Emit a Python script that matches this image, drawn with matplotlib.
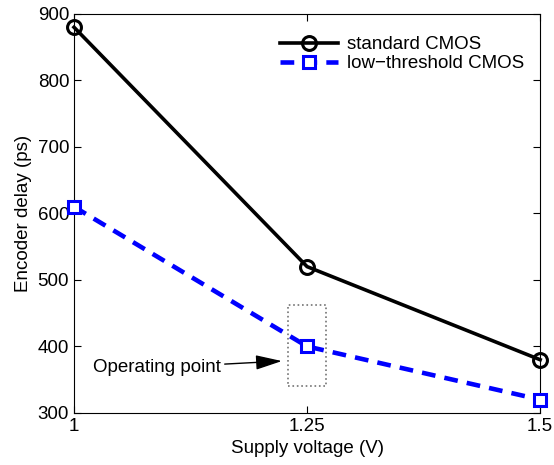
import matplotlib
matplotlib.use('Agg')
import matplotlib.pyplot as plt
from matplotlib.patches import Rectangle

plt.rcParams['font.family'] = ['Liberation Sans', 'DejaVu Sans']

# data
voltage = [1.0, 1.25, 1.5]
standard_cmos = [880, 520, 380]
low_threshold_cmos = [610, 400, 320]
xtick_labels = ['1', '1.25', '1.5']

fig = plt.figure(figsize=(5.54, 4.65), dpi=100)
ax = fig.add_axes([0.1336, 0.112, 0.975 - 0.1336, 0.970 - 0.112])

ax.plot(voltage, standard_cmos, color='black', linewidth=2.6, marker='o',
        markersize=10, markerfacecolor='none', markeredgewidth=2.2,
        label='standard CMOS', clip_on=False, zorder=3)
ax.plot(voltage, low_threshold_cmos, color='blue', linewidth=3.3, linestyle=(0, (3, 2)),
        marker='s', markersize=8, markerfacecolor='white', markeredgewidth=2.2,
        label='low\u2212threshold CMOS', clip_on=False, zorder=3)

# dotted box around the operating point
ax.add_patch(Rectangle((1.23, 340), 0.04, 122, fill=False, edgecolor='0.45',
                       linestyle=':', linewidth=1.2, zorder=2))
ax.annotate('Operating point', xy=(1.223, 378), xytext=(1.02, 368),
            fontsize=13.5, va='center', ha='left',
            arrowprops=dict(arrowstyle='-|>,head_length=0.9,head_width=0.25',
                            color='black', lw=1.0,
                            mutation_scale=18, shrinkA=1, shrinkB=0))

ax.set_xlim(1, 1.5)
ax.set_ylim(300, 900)
ax.set_xticks(voltage)
ax.set_xticklabels(xtick_labels)
ax.set_yticks(range(300, 901, 100))
ax.tick_params(direction='in', labelsize=13.5, length=5, top=True, right=True)
ax.set_xlabel('Supply voltage (V)', fontsize=13.5)
ax.set_ylabel('Encoder delay (ps)', fontsize=13.5)

ax.legend(loc='upper right', bbox_to_anchor=(1.018, 1.005), frameon=False,
          fontsize=13.5, handlelength=3.1, handletextpad=0.45,
          borderaxespad=0.9, labelspacing=0.1)

plt.savefig('out.png', dpi=100)
